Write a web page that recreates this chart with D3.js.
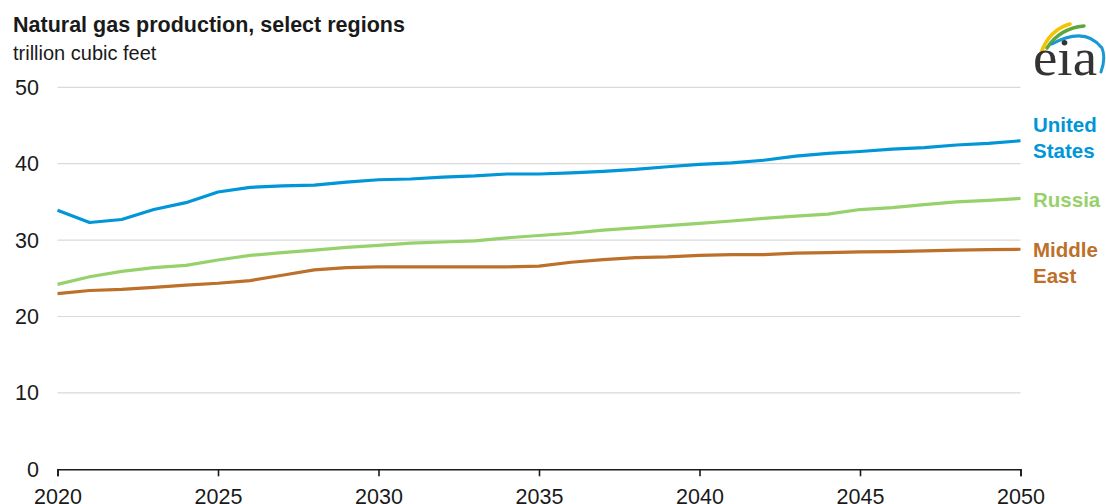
<!DOCTYPE html>
<html>
<head>
<meta charset="utf-8">
<script src="https://cdn.jsdelivr.net/npm/d3@7"></script>
<style>
  html, body { margin: 0; padding: 0; background: #fff; }
  svg { display: block; font-family: "Liberation Sans", Arial, sans-serif; }
</style>
</head>
<body>
<svg id="chart" width="1106" height="504"></svg>
<script>
const years = d3.range(2020, 2051);
const unitedStates = [33.9, 32.3, 32.7, 34.0, 34.9, 36.3, 36.9, 37.1, 37.2, 37.6, 37.9,
  38.0, 38.25, 38.4, 38.65, 38.65, 38.8, 39.0, 39.25, 39.6, 39.9,
  40.1, 40.45, 41.0, 41.35, 41.6, 41.9, 42.1, 42.45, 42.65, 43.0];
const russia = [24.2, 25.2, 25.9, 26.4, 26.7, 27.4, 28.0, 28.35, 28.7, 29.05, 29.3,
  29.6, 29.75, 29.9, 30.3, 30.6, 30.9, 31.3, 31.6, 31.9, 32.2,
  32.5, 32.85, 33.15, 33.4, 34.0, 34.25, 34.65, 35.0, 35.2, 35.45];
const middleEast = [23.0, 23.4, 23.55, 23.8, 24.1, 24.35, 24.7, 25.4, 26.1, 26.4, 26.5,
  26.5, 26.5, 26.5, 26.5, 26.6, 27.1, 27.45, 27.7, 27.8, 28.0,
  28.1, 28.1, 28.3, 28.35, 28.45, 28.5, 28.6, 28.7, 28.75, 28.8];
const yTicks = [0, 10, 20, 30, 40, 50];
const xTicks = [2020, 2025, 2030, 2035, 2040, 2045, 2050];
const seriesNames = ["United States", "Russia", "Middle East"];
const labelLines = [["United", "States"], ["Russia"], ["Middle", "East"]];
const title = "Natural gas production, select regions";
const subtitle = "trillion cubic feet";

const colors = ["#0096d7", "#97d16b", "#bd7029"];
const seriesValues = [unitedStates, russia, middleEast];

const svg = d3.select("#chart");
const x = d3.scaleLinear().domain([2020, 2050]).range([57.5, 1020.5]);
const y = d3.scaleLinear().domain([0, 50]).range([469.3, 87.3]);

// title
svg.append("text").attr("x", 13).attr("y", 31.5)
  .attr("font-size", 21.5).attr("font-weight", "bold").attr("fill", "#1a1a1a")
  .text(title);
svg.append("text").attr("x", 13).attr("y", 60)
  .attr("font-size", 20).attr("fill", "#1a1a1a")
  .text(subtitle);

// gridlines
svg.append("g").selectAll("line").data(yTicks.filter(d => d > 0)).join("line")
  .attr("x1", x(2020)).attr("x2", x(2050))
  .attr("y1", d => y(d)).attr("y2", d => y(d))
  .attr("stroke", "#d9d9d9").attr("stroke-width", 1.2);

// y labels
svg.append("g").selectAll("text").data(yTicks).join("text")
  .attr("x", 39).attr("y", d => y(d)).attr("dy", "0.35em")
  .attr("text-anchor", "end").attr("font-size", 21.5).attr("fill", "#1a1a1a")
  .text(d => d);

// x axis
const xAxis = d3.axisBottom(x).tickValues(xTicks).tickFormat(d3.format("d"))
  .tickSize(7).tickPadding(12);
const gx = svg.append("g").attr("transform", `translate(0,${y(0)})`).call(xAxis);
gx.select(".domain").attr("stroke", "#1a1a1a").attr("stroke-width", 1.6);
gx.selectAll(".tick line").attr("stroke", "#1a1a1a").attr("stroke-width", 1.6);
gx.selectAll(".tick text").attr("font-size", 21.5).attr("fill", "#1a1a1a")
  .attr("font-family", "'Liberation Sans', Arial, sans-serif");

// lines
const line = d3.line().x((d, i) => x(years[i])).y(d => y(d));
seriesValues.forEach((vals, k) => {
  svg.append("path").datum(vals)
    .attr("d", line).attr("fill", "none")
    .attr("stroke", colors[k]).attr("stroke-width", 3.2)
    .attr("stroke-linejoin", "round");
});

// labels
const labelBaselines = [[132, 158], [207], [257, 283]];
labelLines.forEach((lines, k) => {
  lines.forEach((t, j) => {
    svg.append("text").attr("x", 1033).attr("y", labelBaselines[k][j])
      .attr("font-size", 20.5).attr("font-weight", "bold").attr("fill", colors[k])
      .text(t);
  });
});

// eia logo
const logo = svg.append("g");
logo.append("path").attr("d", "M1041,53 Q1049,30 1070,24")
  .attr("fill", "none").attr("stroke", "#f5c400").attr("stroke-width", 3.5).attr("stroke-linecap", "round");
logo.append("path").attr("d", "M1047,48 Q1060,28 1084,26")
  .attr("fill", "none").attr("stroke", "#5aa83c").attr("stroke-width", 3.5).attr("stroke-linecap", "round");
logo.append("path").attr("d", "M1052,44 Q1085,26 1102,48 Q1106,58 1101,72")
  .attr("fill", "none").attr("stroke", "#1a98d5").attr("stroke-width", 3).attr("stroke-linecap", "round");
logo.append("text").attr("x", 1033).attr("y", 75)
  .attr("font-family", "'Liberation Serif', 'Times New Roman', serif")
  .attr("font-size", 52).attr("fill", "#333")
  .attr("textLength", 64).attr("lengthAdjust", "spacingAndGlyphs")
  .text("eia");
</script>
</body>
</html>
